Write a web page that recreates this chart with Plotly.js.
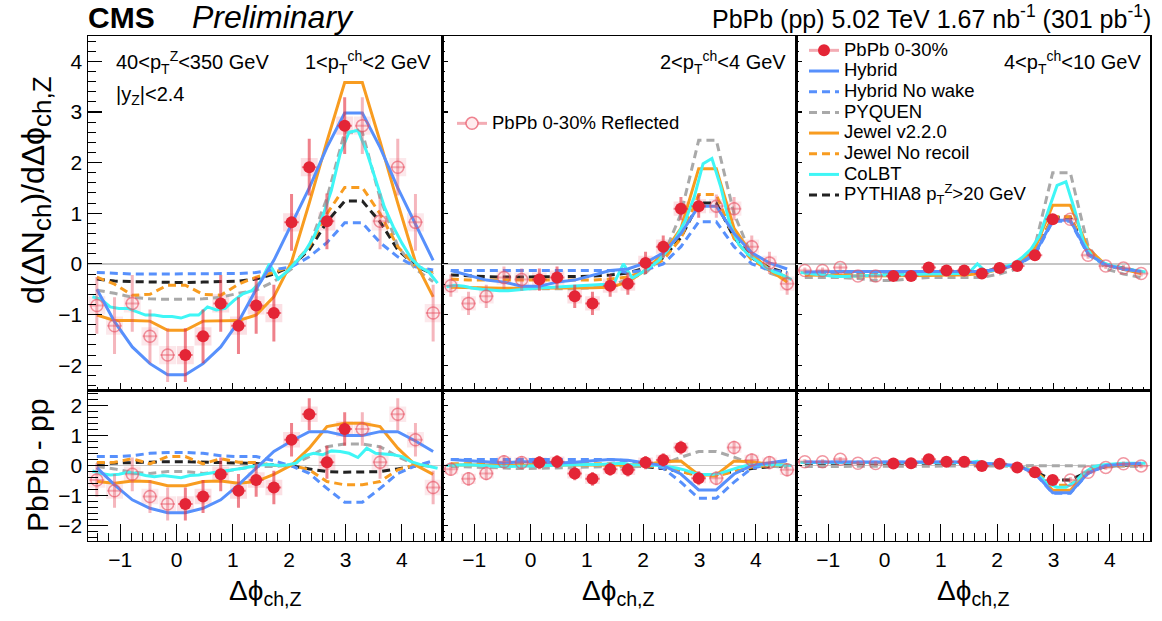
<!DOCTYPE html>
<html><head><meta charset="utf-8">
<script src="https://cdn.plot.ly/plotly-3.0.1.min.js"></script>
<style>html,body{margin:0;padding:0;background:#fff;}#chart{width:1162px;height:621px;}</style>
</head><body><div id="chart"></div>
<script>
// ---------------- DATA ----------------
// bin centres in delta-phi (0..pi), measured points
const phiBins = [0.157, 0.471, 0.785, 1.100, 1.414, 1.728, 2.042, 2.356, 2.670, 2.985];
// finer binning of the CoLBT curves over the full range
const phiFine = [-1.492,-1.335,-1.178,-1.021,-0.864,-0.707,-0.550,-0.393,-0.236,-0.079,
                 0.079,0.236,0.393,0.550,0.707,0.864,1.021,1.178,1.335,1.492,
                 1.649,1.806,1.963,2.121,2.278,2.435,2.592,2.749,2.906,3.063,
                 3.220,3.377,3.534,3.691,3.848,4.006,4.163,4.320,4.477,4.634];

// ---- Panel 1 : 1<pT<2 GeV ----
const dataTop1 = [-1.80,-1.43,-0.78,-1.22,-0.82,-0.97,0.82,1.91,0.84,2.73];
const statTop1 = [0.53,0.53,0.56,0.56,0.56,0.56,0.56,0.56,0.55,0.56];
const sysTop1  = [0.18,0.18,0.18,0.18,0.18,0.18,0.18,0.18,0.18,0.18];
const hybridTop1   = [-2.19,-1.97,-1.64,-1.14,-0.50,0.07,0.78,1.50,2.30,2.98];
const hybridNWTop1 = [-0.20,-0.20,-0.20,-0.19,-0.17,-0.12,-0.06,0.14,0.42,0.81];
const pyquenTop1   = [-0.70,-0.69,-0.66,-0.58,-0.52,-0.35,-0.10,0.35,1.30,2.60];
const jewelTop1    = [-1.31,-1.13,-1.12,-1.12,-1.01,-0.65,0.04,1.20,2.42,3.58];
const jewelNRTop1  = [-0.42,-0.60,-0.62,-0.40,-0.26,-0.17,-0.04,0.34,0.99,1.51];
const pythiaTop1   = [-0.37,-0.36,-0.35,-0.34,-0.30,-0.20,-0.04,0.28,0.83,1.24];
const colbtTop1 = [-0.65,-0.70,-0.85,-0.88,-0.88,-0.95,-1.01,-1.01,-1.04,-1.04,
                   -1.07,-1.01,-1.01,-0.85,-0.91,-0.88,-0.72,-0.59,-0.53,-0.35,
                   0.00,-0.30,-0.15,0.04,0.24,0.53,0.93,1.45,2.18,2.60,
                   2.64,2.21,1.65,1.12,0.73,0.40,0.11,-0.06,-0.16,-0.38];
const dataBot1 = [-1.28,-1.03,-0.29,-0.84,-0.48,-0.73,0.86,1.71,0.11,1.22];
const statBot1 = [0.55,0.55,0.56,0.56,0.56,0.56,0.56,0.53,0.55,0.56];
const sysBot1  = [0.26,0.26,0.26,0.26,0.26,0.26,0.26,0.26,0.26,0.26];
const hybridBot1   = [-1.57,-1.42,-1.14,-0.64,-0.07,0.47,0.82,1.13,1.13,1.00];
const hybridNWBot1 = [0.44,0.41,0.33,0.30,0.30,0.16,-0.01,-0.26,-0.76,-1.22];
const pyquenBot1   = [-0.20,-0.26,-0.22,-0.11,-0.03,-0.03,0.02,0.30,0.63,0.72];
const jewelBot1    = [-0.67,-0.53,-0.51,-0.59,-0.53,-0.29,0.02,0.58,1.30,1.41];
const jewelNRBot1  = [0.30,0.06,0.23,0.11,0.10,0.00,0.02,-0.14,-0.53,-0.64];
const pythiaBot1   = [0.13,0.11,0.11,0.09,0.07,0.02,-0.01,-0.11,-0.20,-0.22];
const colbtBot1 = [-0.18,-0.26,-0.31,-0.29,-0.22,-0.26,-0.33,-0.37,-0.33,-0.37,
                   -0.40,-0.33,-0.31,-0.26,-0.22,-0.18,-0.14,-0.09,-0.03,0.02,
                   0.04,0.00,0.02,0.08,0.33,0.41,0.36,0.49,0.47,0.41,
                   0.27,0.58,0.41,0.38,0.36,0.30,0.13,0.04,-0.03,-0.09];

// ---- Panel 2 : 2<pT<4 GeV ----
const dataTop2 = [-0.31,-0.27,-0.64,-0.78,-0.43,-0.39,0.02,0.34,1.09,1.14];
const statTop2 = [0.22,0.22,0.23,0.23,0.22,0.22,0.22,0.22,0.23,0.23];
const sysTop2  = [0.14,0.14,0.14,0.14,0.14,0.14,0.14,0.14,0.14,0.14];
const hybridTop2   = [-0.44,-0.36,-0.32,-0.22,-0.13,-0.10,0.02,0.22,0.60,1.14];
const hybridNWTop2 = [-0.13,-0.13,-0.13,-0.13,-0.13,-0.17,-0.12,0.00,0.34,0.83];
const pyquenTop2   = [-0.49,-0.49,-0.49,-0.47,-0.44,-0.30,-0.18,0.15,0.99,2.44];
const jewelTop2    = [-0.48,-0.48,-0.48,-0.47,-0.46,-0.36,-0.12,0.20,0.70,1.88];
const jewelNRTop2  = [-0.33,-0.32,-0.32,-0.32,-0.30,-0.26,-0.13,0.08,0.50,1.37];
const pythiaTop2   = [-0.26,-0.26,-0.25,-0.24,-0.22,-0.18,-0.08,0.12,0.52,1.20];
const colbtTop2 = [-0.45,-0.42,-0.44,-0.48,-0.50,-0.52,-0.53,-0.53,-0.51,-0.49,
                   -0.48,-0.47,-0.46,-0.45,-0.44,-0.43,-0.42,-0.41,-0.40,-0.36,
                   0.00,-0.28,-0.18,-0.06,0.07,0.27,0.53,0.86,1.32,1.98,
                   2.08,1.52,0.80,0.40,0.20,0.07,-0.06,-0.16,-0.22,-0.31];
const dataBot2 = [0.10,0.13,-0.26,-0.44,-0.12,-0.14,0.10,0.19,0.60,-0.42];
const statBot2 = [0.22,0.22,0.23,0.23,0.22,0.22,0.22,0.22,0.23,0.23];
const sysBot2  = [0.17,0.17,0.17,0.17,0.17,0.17,0.17,0.17,0.17,0.17];
const hybridBot2   = [0.13,0.09,0.11,0.16,0.20,0.18,0.08,0.00,-0.28,-0.81];
const hybridNWBot2 = [0.20,0.22,0.20,0.20,0.20,0.16,0.05,-0.09,-0.55,-1.09];
const pyquenBot2   = [-0.10,-0.08,-0.06,-0.04,-0.03,-0.05,-0.02,0.05,0.28,0.47];
const jewelBot2    = [0.00,0.02,0.03,0.02,0.02,0.02,0.04,0.13,0.15,-0.31];
const jewelNRBot2  = [0.08,0.08,0.08,0.07,0.06,0.03,0.00,-0.05,-0.20,-0.35];
const pythiaBot2   = [0.06,0.05,0.04,0.03,0.02,0.00,-0.04,-0.10,-0.20,-0.30];
const colbtBot2 = [0.00,0.02,0.03,0.02,0.00,-0.02,-0.03,-0.03,-0.02,-0.01,
                   -0.01,0.00,0.01,0.02,0.03,0.03,0.04,0.04,0.05,0.05,
                   0.08,0.02,0.03,0.02,0.00,-0.03,-0.08,-0.15,-0.25,-0.30,
                   -0.30,-0.25,-0.15,-0.06,0.00,0.02,0.03,0.03,0.02,0.00];

// ---- Panel 3 : 4<pT<10 GeV ----
const dataTop3 = [-0.24,-0.24,-0.07,-0.13,-0.13,-0.19,-0.08,-0.04,0.17,0.88];
const statTop3 = [0.06,0.06,0.06,0.06,0.06,0.06,0.06,0.06,0.07,0.08];
const sysTop3  = [0.04,0.04,0.04,0.04,0.04,0.04,0.04,0.04,0.04,0.05];
const hybridTop3   = [-0.15,-0.15,-0.15,-0.15,-0.16,-0.15,-0.10,-0.02,0.20,0.86];
const hybridNWTop3 = [-0.16,-0.16,-0.16,-0.16,-0.17,-0.16,-0.11,-0.03,0.18,0.84];
const pyquenTop3   = [-0.33,-0.29,-0.27,-0.27,-0.27,-0.27,-0.20,-0.10,0.35,1.80];
const jewelTop3    = [-0.24,-0.24,-0.23,-0.22,-0.22,-0.19,-0.10,-0.02,0.30,1.16];
const jewelNRTop3  = [-0.20,-0.20,-0.19,-0.19,-0.19,-0.17,-0.10,-0.02,0.22,0.93];
const pythiaTop3   = [-0.19,-0.19,-0.19,-0.18,-0.18,-0.16,-0.09,-0.01,0.22,0.92];
const colbtTop3 = [-0.17,-0.19,-0.21,-0.23,-0.25,-0.25,-0.24,-0.24,-0.23,-0.22,
                   -0.22,-0.22,-0.21,-0.21,-0.20,-0.20,-0.20,-0.19,-0.19,-0.18,
                   0.00,-0.16,-0.12,-0.07,0.00,0.12,0.28,0.55,1.05,1.55,
                   1.62,1.06,0.42,0.14,0.04,-0.03,-0.07,-0.11,-0.13,-0.16];
const dataBot3 = [0.07,0.08,0.21,0.13,0.13,-0.01,0.06,-0.06,-0.22,-0.48];
const statBot3 = [0.08,0.08,0.08,0.08,0.08,0.08,0.08,0.08,0.09,0.10];
const sysBot3  = [0.07,0.07,0.07,0.07,0.07,0.07,0.07,0.07,0.07,0.07];
const hybridBot3   = [0.12,0.12,0.12,0.12,0.12,0.08,0.05,0.00,-0.25,-0.90];
const hybridNWBot3 = [0.11,0.11,0.11,0.11,0.11,0.07,0.04,-0.01,-0.26,-0.92];
const pyquenBot3   = [-0.03,-0.03,-0.03,-0.03,-0.03,-0.03,-0.02,-0.01,0.00,0.00];
const jewelBot3    = [0.09,0.09,0.10,0.10,0.10,0.07,0.04,-0.01,-0.20,-0.82];
const jewelNRBot3  = [0.10,0.10,0.10,0.10,0.10,0.07,0.04,-0.01,-0.18,-0.65];
const pythiaBot3   = [0.08,0.08,0.08,0.08,0.08,0.05,0.02,-0.03,-0.20,-0.48];
const colbtBot3 = [0.10,0.10,0.10,0.10,0.09,0.09,0.09,0.09,0.10,0.10,
                   0.10,0.10,0.10,0.10,0.11,0.11,0.11,0.11,0.10,0.10,
                   0.14,0.08,0.05,0.02,0.00,-0.05,-0.15,-0.35,-0.60,-0.72,
                   -0.72,-0.55,-0.25,-0.05,0.02,0.05,0.07,0.08,0.08,0.08];

const modelNames = ['Hybrid','Hybrid No wake','PYQUEN','Jewel v2.2.0','Jewel No recoil','PYTHIA8 p<sub>T</sub><sup>Z</sup>&gt;20 GeV'];
const ptLabels = ['1&lt;p<sub>T</sub><sup>ch</sup>&lt;2 GeV','2&lt;p<sub>T</sub><sup>ch</sup>&lt;4 GeV','4&lt;p<sub>T</sub><sup>ch</sup>&lt;10 GeV'];

// ---------------- BUILD ----------------
const FONT = 'Liberation Sans, Arial, Helvetica, sans-serif';
const W = 1162, H = 621, TWO_PI = 2*Math.PI;
const fx = p => p/W, fy = p => 1 - p/H;
const LEG = s => '<span style="font-size:18.5px">' + s + '</span>';

const modelStyle = [
  {color:'#5790fc', dash:'solid', rank:2},
  {color:'#5790fc', dash:'8px,5px', rank:3},
  {color:'#a9a9a9', dash:'8px,5px', rank:4},
  {color:'#f89c20', dash:'solid', rank:5},
  {color:'#f89c20', dash:'8px,5px', rank:6},
  {color:'#222222', dash:'8px,5px', rank:8}
];
const drawOrder = [5,2,4,1,3,0];

function mirror(v){
  const x=[],y=[];
  for(let k=4;k>=0;k--){x.push(-phiBins[k]);y.push(v[k]);}
  for(let k=0;k<10;k++){x.push(phiBins[k]);y.push(v[k]);}
  for(let k=9;k>=5;k--){x.push(TWO_PI-phiBins[k]);y.push(v[k]);}
  return {x,y};
}
function reflectOnly(v){
  const x=[],y=[];
  for(let k=4;k>=0;k--){x.push(-phiBins[k]);y.push(v[k]);}
  for(let k=9;k>=5;k--){x.push(TWO_PI-phiBins[k]);y.push(v[k]);}
  return {x,y};
}

const rows = [
  {xa:['x','x2','x3'], ya:['y','y2','y3'],
   sets:[
    {d:dataTop1,s:statTop1,sy:sysTop1,m:[hybridTop1,hybridNWTop1,pyquenTop1,jewelTop1,jewelNRTop1,pythiaTop1],c:colbtTop1},
    {d:dataTop2,s:statTop2,sy:sysTop2,m:[hybridTop2,hybridNWTop2,pyquenTop2,jewelTop2,jewelNRTop2,pythiaTop2],c:colbtTop2},
    {d:dataTop3,s:statTop3,sy:sysTop3,m:[hybridTop3,hybridNWTop3,pyquenTop3,jewelTop3,jewelNRTop3,pythiaTop3],c:colbtTop3}]},
  {xa:['x4','x5','x6'], ya:['y4','y5','y6'],
   sets:[
    {d:dataBot1,s:statBot1,sy:sysBot1,m:[hybridBot1,hybridNWBot1,pyquenBot1,jewelBot1,jewelNRBot1,pythiaBot1],c:colbtBot1},
    {d:dataBot2,s:statBot2,sy:sysBot2,m:[hybridBot2,hybridNWBot2,pyquenBot2,jewelBot2,jewelNRBot2,pythiaBot2],c:colbtBot2},
    {d:dataBot3,s:statBot3,sy:sysBot3,m:[hybridBot3,hybridNWBot3,pyquenBot3,jewelBot3,jewelNRBot3,pythiaBot3],c:colbtBot3}]}
];
const boxW = [0.30, 0.26, 0.22];

const traces = [];
rows.forEach((row, r) => {
  row.sets.forEach((st, p) => {
    const xa = row.xa[p], ya = row.ya[p];
    const legendOn = (r===0 && p===2);
    traces.push({type:'bar', x:phiBins, y:st.sy.map(s=>2*s), base:st.d.map((v,i)=>v-st.sy[i]),
      width:boxW[p], marker:{color:'rgba(236,110,128,0.22)', line:{width:0}},
      xaxis:xa, yaxis:ya, showlegend:false, hoverinfo:'skip'});
    const rv = reflectOnly(st.d), rs = reflectOnly(st.sy);
    traces.push({type:'bar', x:rv.x, y:rs.y.map(s=>2*s), base:rv.y.map((v,i)=>v-rs.y[i]),
      width:boxW[p], marker:{color:'rgba(236,110,128,0.16)', line:{width:0}},
      xaxis:xa, yaxis:ya, showlegend:false, hoverinfo:'skip'});
    drawOrder.forEach(mi => {
      const mm = mirror(st.m[mi]);
      traces.push({type:'scatter', mode:'lines', x:mm.x, y:mm.y, name:LEG(modelNames[mi]),
        line:{color:modelStyle[mi].color, width:3, dash:modelStyle[mi].dash},
        xaxis:xa, yaxis:ya, showlegend:legendOn, legend:'legend', legendrank:modelStyle[mi].rank, hoverinfo:'skip'});
      if (mi===3) {
        traces.push({type:'scatter', mode:'lines', x:phiFine, y:st.c, name:LEG('CoLBT'),
          line:{color:'#3ff6f6', width:3},
          xaxis:xa, yaxis:ya, showlegend:legendOn, legend:'legend', legendrank:7, hoverinfo:'skip'});
      }
    });
    const rst = reflectOnly(st.s);
    traces.push({type:'scatter', mode:'markers', x:rv.x, y:rv.y,
      error_y:{type:'data', array:rst.y, color:'rgba(232,80,98,0.42)', thickness:3, width:0},
      error_x:{type:'constant', value:0.13, color:'rgba(232,80,98,0.42)', thickness:2, width:0},
      marker:{symbol:'circle', size:12, color:'rgba(255,255,255,0)', line:{color:'rgba(232,80,98,0.6)', width:1.5}},
      xaxis:xa, yaxis:ya, showlegend:false, hoverinfo:'skip'});
    traces.push({type:'scatter', mode:'markers', x:phiBins, y:st.d,
      error_y:{type:'data', array:st.s, color:'rgba(228,45,62,0.6)', thickness:3, width:0},
      error_x:{type:'constant', value:0.13, color:'rgba(228,45,62,0.6)', thickness:2, width:0},
      marker:{symbol:'circle', size:12, color:'#e42536', line:{width:0}},
      xaxis:xa, yaxis:ya, showlegend:false, hoverinfo:'skip'});
  });
});
traces.push({type:'scatter', mode:'lines+markers', x:[null], y:[null], name:LEG('PbPb 0-30%'),
  line:{color:'rgba(232,90,105,0.5)', width:3}, marker:{size:12, color:'#e42536'},
  xaxis:'x3', yaxis:'y3', legend:'legend', legendrank:1, showlegend:true});
traces.push({type:'scatter', mode:'lines+markers', x:[null], y:[null], name:LEG('PbPb 0-30% Reflected'),
  line:{color:'rgba(232,90,105,0.5)', width:3},
  marker:{size:12, color:'rgba(255,236,238,1)', line:{color:'rgba(232,80,98,0.7)', width:1.5}},
  xaxis:'x2', yaxis:'y2', legend:'legend2', showlegend:true});

// ---------------- LAYOUT ----------------
const xDom = [[fx(88),fx(442)],[fx(442),fx(796)],[fx(796),fx(1150)]];
const yDomTop = [fy(390.5), fy(36)], yDomBot = [fy(540.7), fy(390.5)];
const XR = [-Math.PI/2, 3*Math.PI/2];
function xAxis(dom, anchor, bottom){
  return {domain:dom, anchor:anchor, range:XR, showline:true, linecolor:'#000', linewidth:1.5, mirror:true,
    ticks:'inside', ticklen: bottom?17:8, tickwidth:1.2, tickcolor:'#000', tick0:0, dtick:1,
    minor:{dtick:0.2, ticklen: bottom?8:4, tickwidth:1, tickcolor:'#000', ticks:'inside', showgrid:false},
    showticklabels:bottom, tickfont:{family:FONT, size:21, color:'#000'},
    showgrid:false, zeroline:false, fixedrange:true};
}
function yAxis(dom, anchor, range, labels, major, minorLen){
  return {domain:dom, anchor:anchor, range:range, showline:true, linecolor:'#000', linewidth:1.5, mirror:true,
    ticks:'inside', ticklen:major, tickwidth:1.2, tickcolor:'#000', tick0:0, dtick:1,
    minor:{dtick:0.2, ticklen:minorLen, tickwidth:1, tickcolor:'#000', ticks:'inside', showgrid:false},
    showticklabels:labels, tickfont:{family:FONT, size:21, color:'#000'},
    showgrid:false, zeroline:true, zerolinecolor:'#c6c6c6', zerolinewidth:1.5, fixedrange:true};
}

const ann = [];
function addText(text, x, y, xanchor, size, extra){
  ann.push(Object.assign({text:text, x:x, y:y, xref:'paper', yref:'paper', xanchor:xanchor, yanchor:'middle',
    showarrow:false, font:{family:FONT, size:size, color:'#000'}}, extra||{}));
}
addText('<b>CMS</b>', fx(86), fy(17), 'left', 30);
addText('<i>Preliminary</i>', fx(190), fy(17), 'left', 32);
addText('PbPb (pp) 5.02 TeV 1.67 nb<sup>-1</sup> (301 pb<sup>-1</sup>)', fx(1153), fy(17), 'right', 25);
addText('40&lt;p<sub>T</sub><sup>Z</sup>&lt;350 GeV', fx(114), fy(62), 'left', 20);
addText('|y<sub>Z</sub>|&lt;2.4', fx(114), fy(95), 'left', 20);
addText(ptLabels[0], fx(433), fy(62), 'right', 20);
addText(ptLabels[1], fx(788), fy(62), 'right', 20);
addText(ptLabels[2], fx(1143), fy(62), 'right', 20);
addText('d(ΔN<sub><span style="font-size:26px">ch</span></sub>)/dΔϕ<sub><span style="font-size:26px">ch,Z</span></sub>', fx(36), fy(190), 'center', 32, {textangle:-90});
addText('PbPb - pp', fx(37), fy(466), 'center', 30, {textangle:-90});
[265, 619, 973].forEach(c => addText('Δϕ<sub>ch,Z</sub>', fx(c), fy(592), 'center', 28));

const layout = {
  width:W, height:H, margin:{l:0,r:0,t:0,b:0}, paper_bgcolor:'#fff', plot_bgcolor:'rgba(0,0,0,0)',
  barmode:'overlay', showlegend:true, font:{family:FONT, color:'#000'},
  xaxis: xAxis(xDom[0],'y',false), xaxis2: xAxis(xDom[1],'y2',false), xaxis3: xAxis(xDom[2],'y3',false),
  xaxis4: xAxis(xDom[0],'y4',true), xaxis5: xAxis(xDom[1],'y5',true), xaxis6: xAxis(xDom[2],'y6',true),
  yaxis: yAxis(yDomTop,'x',[-2.5,4.5],true,14,8),
  yaxis2: yAxis(yDomTop,'x2',[-2.5,4.5],false,6,3),
  yaxis3: yAxis(yDomTop,'x3',[-2.5,4.5],false,6,3),
  yaxis4: yAxis(yDomBot,'x4',[-2.5,2.5],true,20,10),
  yaxis5: yAxis(yDomBot,'x5',[-2.5,2.5],false,6,3),
  yaxis6: yAxis(yDomBot,'x6',[-2.5,2.5],false,6,3),
  legend:{x:fx(804), y:fy(35), xanchor:'left', yanchor:'top', bgcolor:'rgba(0,0,0,0)', borderwidth:0,
    font:{family:FONT, size:13.6, color:'#000'}, tracegroupgap:0, traceorder:'normal', itemwidth:30},
  legend2:{x:fx(452), y:fy(108), xanchor:'left', yanchor:'top', bgcolor:'rgba(0,0,0,0)', borderwidth:0,
    font:{family:FONT, size:13.6, color:'#000'}, itemwidth:30},
  annotations: ann
};
Plotly.newPlot('chart', traces, layout, {staticPlot:true, displayModeBar:false});
</script></body></html>
